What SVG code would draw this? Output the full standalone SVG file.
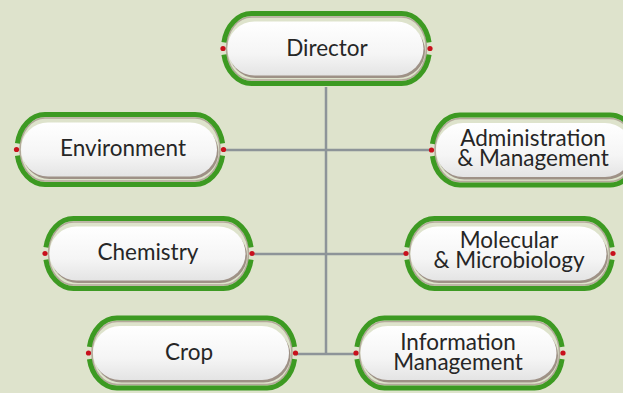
<svg xmlns="http://www.w3.org/2000/svg" xmlns:xlink="http://www.w3.org/1999/xlink" width="623" height="393" viewBox="0 0 623 393">
<style>
.bg{fill:#dee3cc}
.conn{stroke:#8d9498;stroke-width:2.5;fill:none}
.green{stroke:#3d9a22;stroke-width:5;fill:none}
.gshadow{stroke:#a79a8d;stroke-width:1.6;fill:none;opacity:.8}
.wshadow{fill:#9e9186}
.white{fill:url(#wg)}
.dot{fill:#c8101c}
.label{font-family:Lato,"Open Sans","Liberation Sans",sans-serif;font-size:22.5px;fill:#262626;text-anchor:middle}
</style>
<defs>
<linearGradient id="wg" x1="0" y1="0" x2="0" y2="1">
<stop offset="0" stop-color="#ffffff"/>
<stop offset="0.6" stop-color="#f5f5f5"/>
<stop offset="1" stop-color="#e4e4e4"/>
</linearGradient>
<g id="pill">
<rect class="gshadow" x="-100" y="-31.5" width="200" height="63" rx="25" ry="31.5"/>
<path class="green" d="M -102.6,-6.1 A 28 35 0 0 1 -75,-35 L 75,-35 A 28 35 0 0 1 102.6,-6.1"/>
<path class="green" d="M -102.6,6.1 A 28 35 0 0 0 -75,35 L 75,35 A 28 35 0 0 0 102.6,6.1"/>
<rect class="wshadow" x="-97.5" y="-24.5" width="196" height="54" rx="27" ry="27"/>
<rect class="white" x="-99" y="-27" width="196" height="54" rx="27" ry="27"/>
<circle class="dot" cx="-103.5" cy="0" r="2.6"/>
<circle class="dot" cx="103.5" cy="0" r="2.6"/>
</g>
</defs>
<rect class="bg" x="0" y="0" width="623" height="393"/>
<g id="connectors">
<line class="conn" x1="326" y1="87" x2="326" y2="354"/>
<line class="conn" x1="222" y1="150" x2="432" y2="150"/>
<line class="conn" x1="250" y1="254" x2="406" y2="254"/>
<line class="conn" x1="294" y1="354" x2="357" y2="354"/>
</g>
<g id="director">
<use xlink:href="#pill" transform="translate(326.5,48.5)"/>
<text class="label" x="327" y="56">Director</text>
</g>
<g id="environment">
<use xlink:href="#pill" transform="translate(120,149.5)"/>
<text class="label" x="123" y="156">Environment</text>
</g>
<g id="administration">
<use xlink:href="#pill" transform="translate(535,150)"/>
<text class="label" x="533" y="146">Administration<tspan x="533" dy="20">&amp; Management</tspan></text>
</g>
<g id="chemistry">
<use xlink:href="#pill" transform="translate(148.5,253.5)"/>
<text class="label" x="148" y="260">Chemistry</text>
</g>
<g id="molecular">
<use xlink:href="#pill" transform="translate(509.5,253.5)"/>
<text class="label" x="509" y="248">Molecular<tspan x="509" dy="20">&amp; Microbiology</tspan></text>
</g>
<g id="crop">
<use xlink:href="#pill" transform="translate(192,353)"/>
<text class="label" x="189" y="360">Crop</text>
</g>
<g id="information">
<use xlink:href="#pill" transform="translate(459.5,353)"/>
<text class="label" x="458" y="350">Information<tspan x="458" dy="20">Management</tspan></text>
</g>
</svg>
